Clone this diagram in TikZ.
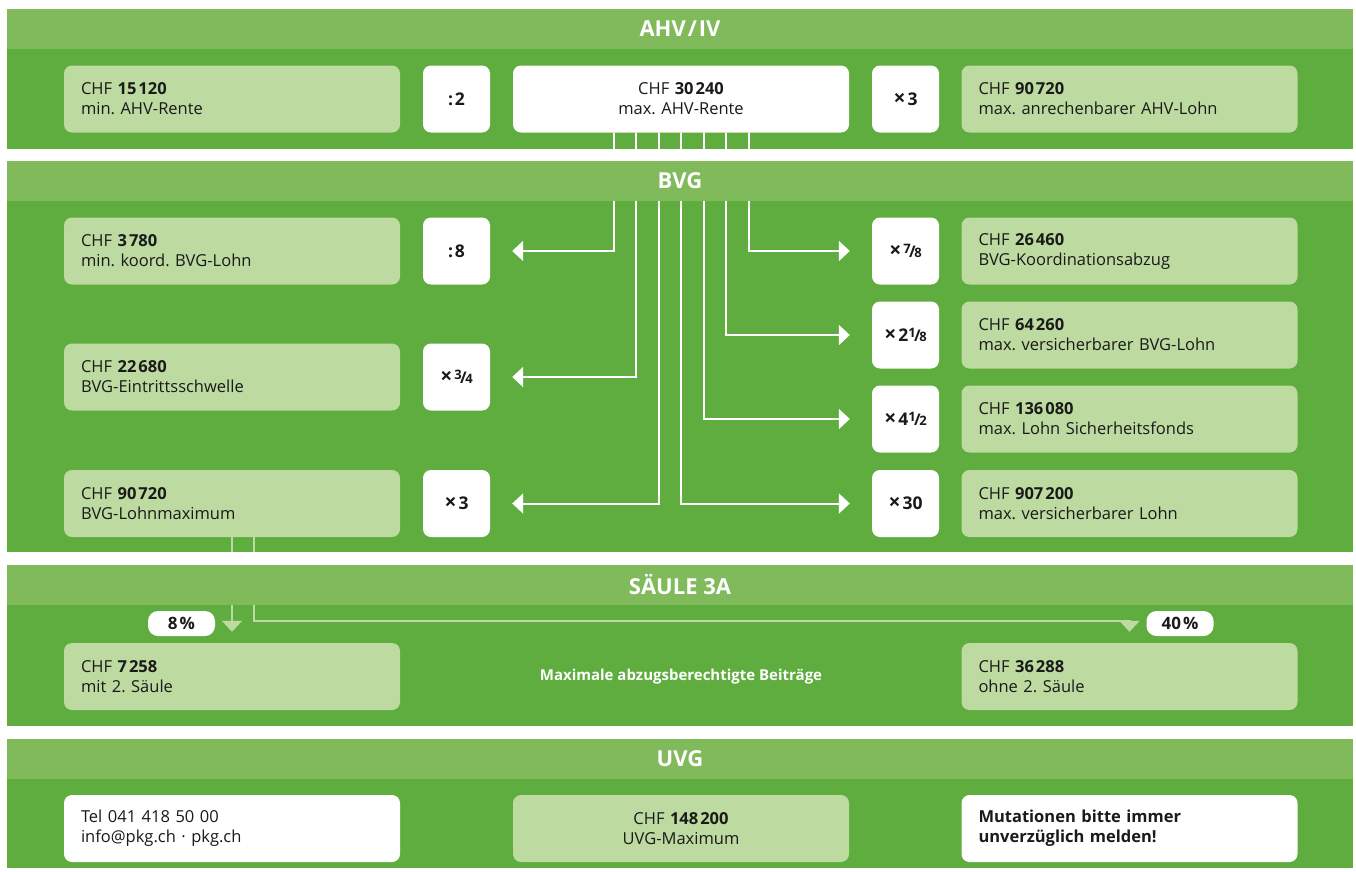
\documentclass[tikz,border=0pt]{standalone}
\usepackage{fontspec}
\setmainfont{Open Sans}
\usetikzlibrary{arrows.meta}
\definecolor{pkgbody}{HTML}{5EAD3E}
\definecolor{pkghead}{HTML}{80BA5A}
\definecolor{pkglight}{HTML}{BDDAA0}
\definecolor{pkgtext}{HTML}{1A1A1A}
\frenchspacing
\newcommand{\tsp}{\kern2pt}
\newcommand{\mal}{{\fontsize{21}{21}\selectfont ×}\kern2pt}
\newcommand{\frc}[2]{{\fontsize{13}{13}\selectfont\raisebox{4.5pt}{#1}\kern-1.5pt{\fontsize{16}{16}\selectfont/}\kern-1.5pt#2}}

\begin{document}
\begin{tikzpicture}[x=1pt,y=-1pt,
    valbox/.style={rounded corners=8pt, fill=pkglight, text=pkgtext,
        text width=302pt, inner xsep=17pt, inner ysep=0pt,
        minimum height=67pt, align=left, font=\fontsize{16.5}{20}\selectfont},
    opbox/.style={rounded corners=8pt, fill=white, text=pkgtext,
        minimum width=67pt, minimum height=67pt, inner sep=0pt,
        font=\fontsize{17.5}{20}\selectfont\bfseries},
    pill/.style={rounded corners=10pt, fill=white, text=pkgtext,
        minimum width=67pt, minimum height=25pt, inner sep=0pt,
        font=\fontsize{17}{18}\selectfont\bfseries},
    headtext/.style={text=white, font=\fontsize{22}{25}\selectfont\bfseries},
    wline/.style={white, line width=2pt, -{Triangle[length=11pt,width=20pt]},
        shorten >=22pt},
    gline/.style={pkglight, line width=2pt, -{Triangle[length=11pt,width=20pt]},
        shorten >=11pt}]
    \useasboundingbox (0,0) rectangle (1356,871);

    % Section bodies
    \foreach \top/\bot in {9/149, 161/552, 565/726, 739/868} {
        \fill[pkgbody] (7,\top) rectangle (1353,\bot);
    }

    % AHV / IV
    \node[valbox] (ahvmin) at (232,99) {CHF \textbf{15\tsp120}\\min. AHV-Rente};
    \node[opbox] (div2) at (456.5,99) {:\tsp2};
    \node[valbox, fill=white, align=center] (ahvmax) at (681,99) {CHF \textbf{30\tsp240}\\max. AHV-Rente};
    \node[opbox] (mul3a) at (905.5,99) {\mal3};
    \node[valbox] (ahvlohn) at (1129.5,99) {CHF \textbf{90\tsp720}\\max. anrechenbarer AHV-Lohn};

    % BVG
    \node[valbox] (koordmin) at (232,251) {CHF \textbf{3\tsp780}\\min. koord. BVG-Lohn};
    \node[opbox] (div8) at (456.5,251) {:\tsp8};
    \node[opbox] (mul78) at (905.5,251) {\mal\frc78};
    \node[valbox] (koordabzug) at (1129.5,251) {CHF \textbf{26\tsp460}\\BVG-Koordinationsabzug};
    \node[opbox] (mul218) at (905.5,335) {\mal2\frc18};
    \node[valbox] (bvgmax) at (1129.5,335) {CHF \textbf{64\tsp260}\\max. versicherbarer BVG-Lohn};
    \node[valbox] (schwelle) at (232,377) {CHF \textbf{22\tsp680}\\BVG-Eintrittsschwelle};
    \node[opbox] (mul34) at (456.5,377) {\mal\frc34};
    \node[opbox] (mul412) at (905.5,419) {\mal4\frc12};
    \node[valbox] (sifonds) at (1129.5,419) {CHF \textbf{136\tsp080}\\max. Lohn Sicherheitsfonds};
    \node[valbox] (lohnmax) at (232,503.5) {CHF \textbf{90\tsp720}\\BVG-Lohnmaximum};
    \node[opbox] (mul3b) at (456.5,503.5) {\mal3};
    \node[opbox] (mul30) at (905.5,503.5) {\mal30};
    \node[valbox] (versmax) at (1129.5,503.5) {CHF \textbf{907\tsp200}\\max. versicherbarer Lohn};

    % Arrows from max. AHV-Rente
    \foreach \dx/\target in {-67.5/div8, -45/mul34, -22.5/mul3b}
        \draw[wline] ([xshift=\dx pt]ahvmax.south) |- (\target.east);
    \foreach \dx/\target in {0/mul30, 22.5/mul412, 45/mul218, 67.5/mul78}
        \draw[wline] ([xshift=\dx pt]ahvmax.south) |- (\target.west);

    % Saeule 3a
    \node[valbox] (mit2) at (232,676.5) {CHF \textbf{7\tsp258}\\mit 2. Säule};
    \node[valbox] (ohne2) at (1129.5,676.5) {CHF \textbf{36\tsp288}\\ohne 2. Säule};
    \node[text=white, font=\fontsize{15}{17}\selectfont\bfseries] (beitrag) at (681,676.5) {Maximale abzugsberechtigte Beiträge};
    \node[pill] (p8) at (181.5,623.5) {8\tsp\%};
    \node[pill] (p40) at (1180,623.5) {40\tsp\%};
    \draw[gline] (lohnmax.south) -- (mit2.north);
    \draw[gline] ([xshift=22pt]lohnmax.south) |- ([yshift=22pt]ohne2.north) -- (ohne2.north);

    % UVG
    \node[valbox, fill=white] (kontakt) at (232,828.5) {Tel 041 418 50 00\\info@pkg.ch · pkg.ch};
    \node[valbox, align=center] (uvgmax) at (681,828.5) {CHF \textbf{148\tsp200}\\UVG-Maximum};
    \node[valbox, fill=white, font=\fontsize{16.5}{20}\selectfont\bfseries] (hinweis) at (1129.5,828.5) {Mutationen bitte immer\\unverzüglich melden!};

    % Gaps and headers on top
    \foreach \top/\bot in {149/161, 552/565, 726/739} {
        \fill[white] (7,\top) rectangle (1353,\bot);
    }
    \foreach \top/\title in {9/AHV\tsp\slash\tsp IV, 161/BVG, 565/SÄULE 3A, 739/UVG} {
        \fill[pkghead] (7,\top) rectangle (1353,\top+40);
        \node[headtext] (head\top) at (680,\top+20) {\title};
    }
\end{tikzpicture}
\end{document}
